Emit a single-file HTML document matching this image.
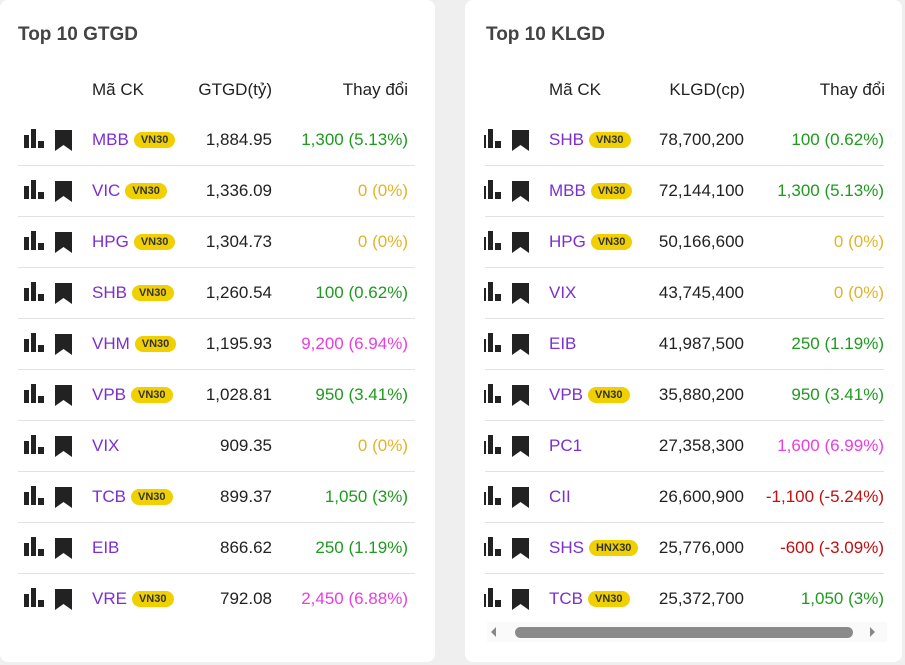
<!DOCTYPE html>
<html><head><meta charset="utf-8"><style>
body{margin:0;width:905px;height:665px;background:#efefef;font-family:"Liberation Sans",sans-serif;position:relative;overflow:hidden}
.card{position:absolute;top:0;height:662px;background:#fff;border-radius:8px;overflow:hidden}
.t{position:absolute;font-size:19px;font-weight:bold;color:#444;top:24px}
.h{position:absolute;top:80px;font-size:17px;color:#222;white-space:nowrap}
.row{position:absolute;height:50px;border-bottom:1px solid #e2e2e2}
.row.last{border-bottom:none}
.c{position:absolute;top:15px;font-size:17px;white-space:nowrap;line-height:20px}
.sym{color:#7b2fd0}
.num{color:#222;text-align:right}
.badge{display:inline-block;background:#f0d000;color:#333;font-size:11px;font-weight:bold;border-radius:9px;padding:2px 7px;vertical-align:2px;margin-left:5px;line-height:12px}
.g{color:#1f9a1f}.y{color:#e0b52a}.p{color:#e83ee0}.r{color:#c01010}
.ic{position:absolute;top:0;width:60px;height:50px;overflow:hidden}
</style></head><body>
<div class="card" style="left:0;width:435px">
<div class="t" style="left:18px">Top 10 GTGD</div>
<div class="h" style="left:92px">Mã CK</div>
<div class="h" style="right:163px">GTGD(tỷ)</div>
<div class="h" style="right:27px">Thay đổi</div>
<div id="L"></div>
</div>
<div class="card" style="left:465px;width:437px">
<div class="t" style="left:21px">Top 10 KLGD</div>
<div class="h" style="left:84px">Mã CK</div>
<div class="h" style="right:157px">KLGD(cp)</div>
<div class="h" style="right:17px">Thay đổi</div>
<div id="R"></div>
<div style="position:absolute;left:22px;top:622px;width:400px;height:20px;background:#fafafa"></div>
<div style="position:absolute;left:26px;top:627px;width:0;height:0;border-top:5px solid transparent;border-bottom:5px solid transparent;border-right:5px solid #888"></div>
<div style="position:absolute;left:50px;top:627px;width:338px;height:11px;border-radius:6px;background:#8a8a8a"></div>
<div style="position:absolute;left:405px;top:627px;width:0;height:0;border-top:5px solid transparent;border-bottom:5px solid transparent;border-left:5px solid #888"></div>
</div>
<script>
function icon(x,clip){
return '<div class="ic" style="left:'+x+'px"><svg width="60" height="50" style="position:absolute;left:'+(clip||0)+'px">'+
'<rect x="0" y="20" width="5" height="13" fill="#222"/><rect x="7" y="14" width="5" height="19" fill="#222"/><rect x="14" y="26" width="6" height="7" fill="#222"/>'+
'<path d="M31 15 h17 v21 l-8.5 -6 l-8.5 6 z" fill="#222"/></svg></div>';}
function build(id,data,o){
var h='';data.forEach(function(d,i){
h+='<div class="row'+(i==9?' last':'')+'" style="top:'+(115+51*i)+'px;left:'+o.l+'px;width:'+o.w+'px">'+
icon(o.ix,o.clip)+
'<div class="c sym" style="left:'+o.s+'px">'+d[0]+(d[1]?'<span class="badge">'+d[1]+'</span>':'')+'</div>'+
'<div class="c num" style="right:'+o.n+'px">'+d[2]+'</div>'+
'<div class="c '+d[4]+'" style="right:'+o.ch+'px">'+d[3]+'</div></div>';});
document.getElementById(id).outerHTML=h;}
build('L',[["MBB","VN30","1,884.95","1,300 (5.13%)","g"],["VIC","VN30","1,336.09","0 (0%)","y"],["HPG","VN30","1,304.73","0 (0%)","y"],["SHB","VN30","1,260.54","100 (0.62%)","g"],["VHM","VN30","1,195.93","9,200 (6.94%)","p"],["VPB","VN30","1,028.81","950 (3.41%)","g"],["VIX","","909.35","0 (0%)","y"],["TCB","VN30","899.37","1,050 (3%)","g"],["EIB","","866.62","250 (1.19%)","g"],["VRE","VN30","792.08","2,450 (6.88%)","p"]],{l:18,w:397,ix:6,s:74,n:143,ch:7});
build('R',[["SHB","VN30","78,700,200","100 (0.62%)","g"],["MBB","VN30","72,144,100","1,300 (5.13%)","g"],["HPG","VN30","50,166,600","0 (0%)","y"],["VIX","","43,745,400","0 (0%)","y"],["EIB","","41,987,500","250 (1.19%)","g"],["VPB","VN30","35,880,200","950 (3.41%)","g"],["PC1","","27,358,300","1,600 (6.99%)","p"],["CII","","26,600,900","-1,100 (-5.24%)","r"],["SHS","HNX30","25,776,000","-600 (-3.09%)","r"],["TCB","VN30","25,372,700","1,050 (3%)","g"]],{l:20,w:399,ix:-1,clip:-3,s:64,n:140,ch:0});
</script>
</body></html>
